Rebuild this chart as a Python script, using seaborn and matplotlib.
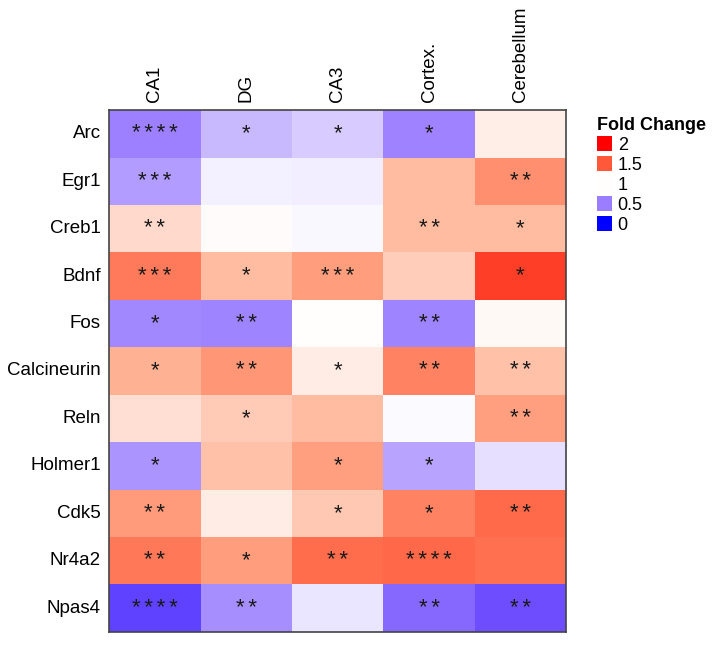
import numpy as np
import pandas as pd
import matplotlib
matplotlib.use('Agg')
import matplotlib.pyplot as plt
from matplotlib.colors import LinearSegmentedColormap
from matplotlib.patches import Patch
import seaborn as sns

# Datos
regiones = ['CA1', 'DG', 'CA3', 'Cortex.', 'Cerebellum']
genes = ['Arc', 'Egr1', 'Creb1', 'Bdnf', 'Fos', 'Calcineurin', 'Reln',
         'Holmer1', 'Cdk5', 'Nr4a2', 'Npas4']

fold_change = [
    [0.51, 0.73, 0.80, 0.52, 1.05],
    [0.62, 0.94, 0.93, 1.21, 1.34],
    [1.11, 1.01, 0.97, 1.21, 1.21],
    [1.40, 1.21, 1.30, 1.15, 1.65],
    [0.54, 0.53, 1.00, 0.53, 1.02],
    [1.24, 1.32, 1.06, 1.38, 1.19],
    [1.10, 1.16, 1.21, 0.98, 1.29],
    [0.59, 1.19, 1.29, 0.65, 0.88],
    [1.31, 1.06, 1.17, 1.38, 1.45],
    [1.41, 1.30, 1.44, 1.46, 1.43],
    [0.23, 0.57, 0.90, 0.40, 0.28],
]

significancia = [
    ['****', '*', '*', '*', ''],
    ['***', '', '', '', '**'],
    ['**', '', '', '**', '*'],
    ['***', '*', '***', '', '*'],
    ['*', '**', '', '**', ''],
    ['*', '**', '*', '**', '**'],
    ['', '*', '', '', '**'],
    ['*', '', '*', '*', ''],
    ['**', '', '*', '*', '**'],
    ['**', '*', '**', '****', ''],
    ['****', '**', '', '**', '**'],
]

niveles_leyenda = [2, 1.5, 1, 0.5, 0]

df = pd.DataFrame(fold_change, index=genes, columns=regiones)
# asteriscos separados con un espacio estrecho, como en la figura original
anot = np.array([['\u2006'.join(s) for s in fila] for fila in significancia])

# Escala azul - blanco - rojo (centro en 1), tonos intermedios algo anaranjados / violetas
cmap = LinearSegmentedColormap.from_list(
    'fold', [(0.0, '#0000FF'), (0.125, '#6848FF'), (0.25, '#9A7DFF'),
             (0.5, '#FFFFFF'),
             (0.625, '#FFAE8E'), (0.75, '#FF5A3A'), (1.0, '#FF0000')])

plt.rcParams['font.family'] = ['Liberation Sans', 'DejaVu Sans']

fig = plt.figure(figsize=(7.14, 6.52), dpi=100)
ax = fig.add_axes([0.153, 0.031, 0.640, 0.800])

sns.heatmap(df, ax=ax, cmap=cmap, vmin=0, vmax=2, cbar=False,
            annot=anot, fmt='', annot_kws={'fontsize': 16, 'color': '#1a1a1a'})

ax.xaxis.tick_top()
ax.set_xticklabels(regiones, rotation=90, fontsize=13.5)
ax.set_yticklabels(genes, rotation=0, fontsize=13.5)
ax.tick_params(length=0, pad=6)
ax.set_xlabel('')
ax.set_ylabel('')
for s in ax.spines.values():
    s.set_visible(True)
    s.set_color('#444444')
    s.set_linewidth(1.2)

# Leyenda
handles = [Patch(facecolor=cmap(v / 2), edgecolor='none') for v in niveles_leyenda]
etiquetas = [str(v) for v in niveles_leyenda]
leg = fig.legend(handles, etiquetas, title='Fold Change', loc='upper left',
                 bbox_to_anchor=(0.836, 0.821), frameon=False, fontsize=13,
                 title_fontproperties={'weight': 'bold', 'size': 13},
                 handlelength=0.85, handleheight=0.85, handletextpad=0.3,
                 labelspacing=0.14, borderpad=0, borderaxespad=0)
leg._legend_box.align = 'left'

fig.savefig('out.png', dpi=100)
